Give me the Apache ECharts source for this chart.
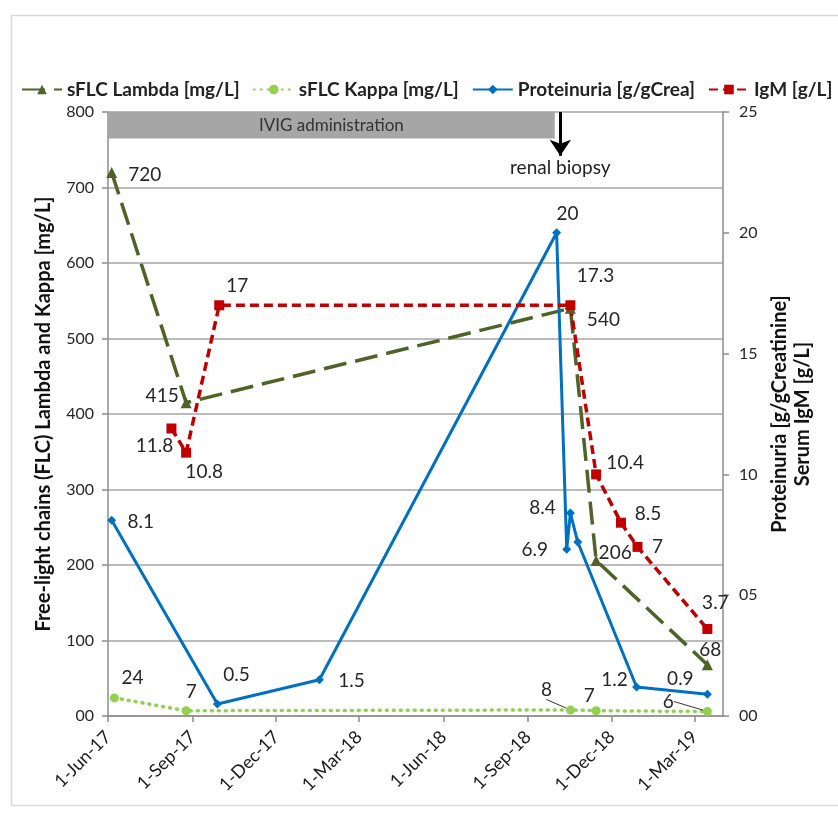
<!DOCTYPE html>
<html>
<head>
<meta charset="utf-8">
<script src="https://cdn.jsdelivr.net/npm/echarts@6/dist/echarts.min.js"></script>
<style>
html,body{margin:0;padding:0;background:#fff;}
#chart{width:838px;height:816px;}
</style>
</head>
<body>
<div id="chart"></div>
<script>
// ---- data ----
const xTickDates = ['2017-06-01','2017-09-01','2017-12-01','2018-03-01','2018-06-01','2018-09-01','2018-12-01','2019-03-01'];
const xTickLabels = ['1-Jun-17','1-Sep-17','1-Dec-17','1-Mar-18','1-Jun-18','1-Sep-18','1-Dec-18','1-Mar-19'];
const xRange = ['2017-06-01','2019-04-01'];

const lambdaDates = ['2017-06-05','2017-08-25','2018-10-17','2018-11-14','2019-03-15'];
const lambdaValues = [720, 415, 540, 206, 68];
const lambdaLabels = ['720','415','540','206','68'];

const kappaDates = ['2017-06-08','2017-08-25','2018-10-17','2018-11-14','2019-03-15'];
const kappaValues = [24, 7, 8, 7, 6];
const kappaLabels = ['24','7','8','7','6'];

const protDates = ['2017-06-05','2017-09-28','2018-01-17','2018-10-02','2018-10-13','2018-10-17','2018-10-25','2018-12-28','2019-03-15'];
const protValues = [8.1, 0.5, 1.5, 20, 6.9, 8.4, 7.2, 1.2, 0.9];
const protLabels = ['8.1','0.5','1.5','20','6.9','8.4','','1.2','0.9'];

const igmDates = ['2017-08-09','2017-08-25','2017-09-30','2018-10-17','2018-11-14','2018-12-11','2018-12-29','2019-03-15'];
const igmValues = [11.9, 10.9, 17, 17, 10, 8, 7, 3.6];
const igmLabels = ['11.8','10.8','17','17.3','10.4','8.5','7','3.7'];

const ivigPeriod = ['2017-06-01','2018-09-30'];
const ivigBand = [765, 800];
const biopsyDate = '2018-10-06';
const biopsyArrow = [800, 742];

// ---- label placement (style) ----
const lambdaOff = [[33,2],[-24,-7],[33,12],[19,-8],[3,-15]];
const kappaOff  = [[18,-20],[5,-19],[-24,-20],[-7,-15],[-39,-10]];
const kappaLeader = [false,false,true,false,true];
const protOff   = [[29,2],[19,-29],[32,1],[11,-19],[-32,1],[-28,-5],[0,0],[-22,-7],[-27,-15]];
const igmOff    = [[-17,17],[18,19],[18,-19],[25,-29],[29,-12],[27,-9],[20,0],[8,-26]];

const t = s => Date.parse(s);
const FONT = 'Lato';
const txt = '#262626';

function build(dates, vals, labels, offs, leaders){
  return dates.map((d,i)=>{
    const item = {
      value:[t(d), vals[i]],
      label:{show: labels[i] !== '', formatter: labels[i], offset: offs[i]}
    };
    if (leaders) item.labelLine = {show: !!leaders[i]};
    return item;
  });
}
const baseLabel = {show:true, position:'inside', color:txt, fontFamily:FONT, fontSize:19, align:'center', verticalAlign:'middle'};

const chart = echarts.init(document.getElementById('chart'), null, {renderer:'canvas'});
const tickVals = xTickDates.map(t);

chart.setOption({
  animation:false,
  backgroundColor:'#fff',
  textStyle:{fontFamily:FONT},
  graphic:[{type:'rect', left:9, top:13, shape:{width:840, height:790}, style:{fill:'none', stroke:'#D9D9D9', lineWidth:1.5}, silent:true}],
  legend:{
    left:16, top:75, itemWidth:40, itemHeight:12, itemGap:13,
    textStyle:{fontFamily:FONT, fontSize:19, fontWeight:'bold', color:'#222'},
    data:['sFLC Lambda [mg/L]','sFLC Kappa [mg/L]','Proteinuria [g/gCrea]','IgM [g/L]']
  },
  grid:{left:108, right:115, top:112, bottom:100},
  xAxis:{
    type:'value', min:t(xRange[0]), max:t(xRange[1]),
    splitLine:{show:false},
    axisLine:{lineStyle:{color:'#8C8C8C', width:1.5}},
    axisTick:{show:true, customValues:tickVals, length:6, lineStyle:{color:'#8C8C8C', width:1.5}},
    axisLabel:{customValues:tickVals, rotate:45, margin:18, fontSize:18, fontFamily:FONT, color:'#1a1a1a',
      formatter:v=>{const i=tickVals.indexOf(v); return i>=0?xTickLabels[i]:'';}}
  },
  yAxis:[
    {type:'value', min:0, max:800, interval:100,
     name:'Free-light chains (FLC) Lambda and Kappa [mg/L]', nameLocation:'middle', nameRotate:90, nameGap:54,
     nameTextStyle:{fontFamily:FONT, fontSize:20, fontWeight:'bold', color:'#111'},
     axisLine:{show:true, lineStyle:{color:'#8C8C8C', width:1.5}},
     axisTick:{show:true, length:6, lineStyle:{color:'#8C8C8C', width:1.5}},
     splitLine:{show:true, lineStyle:{color:'#A6A6A6', width:1.5}},
     axisLabel:{margin:14, fontSize:16, fontFamily:FONT, color:txt, formatter:v=>v===0?'00':String(v)}},
    {type:'value', min:0, max:25, interval:5, position:'right',
     name:'Proteinuria [g/gCreatinine]\nSerum IgM [g/L]', nameLocation:'middle', nameRotate:90, nameGap:44,
     nameTextStyle:{fontFamily:FONT, fontSize:20, fontWeight:'bold', color:'#111', lineHeight:23},
     axisLine:{show:true, lineStyle:{color:'#8C8C8C', width:1.5}},
     axisTick:{show:true, length:6, lineStyle:{color:'#8C8C8C', width:1.5}},
     splitLine:{show:false},
     axisLabel:{margin:16, fontSize:16, fontFamily:FONT, color:txt, formatter:v=>v<10?'0'+v:String(v)}}
  ],
  series:[
    {name:'sFLC Lambda [mg/L]', type:'line', yAxisIndex:0, symbol:'triangle', symbolSize:11,
     itemStyle:{color:'#4F6228'}, lineStyle:{color:'#4F6228', width:3.5, type:[23,9]},
     label:baseLabel, data:build(lambdaDates, lambdaValues, lambdaLabels, lambdaOff),
     markArea:{silent:true, itemStyle:{color:'#A6A6A6', opacity:1},
       label:{show:true, position:'inside', color:'#333', fontFamily:FONT, fontSize:17},
       data:[[{name:'IVIG administration', xAxis:t(ivigPeriod[0]), yAxis:ivigBand[0]}, {xAxis:t(ivigPeriod[1]), yAxis:ivigBand[1]}]]},
     markLine:{silent:true, symbol:['none','arrow'], symbolSize:16, animation:false,
       lineStyle:{color:'#000', width:3, type:'solid'},
       label:{show:true, position:'end', distance:3, formatter:'renal biopsy', color:'#222', fontFamily:FONT, fontSize:19},
       data:[[{coord:[t(biopsyDate), biopsyArrow[0]]}, {coord:[t(biopsyDate), biopsyArrow[1]]}]]}
    },
    {name:'sFLC Kappa [mg/L]', type:'line', yAxisIndex:0, symbol:'circle', symbolSize:9,
     itemStyle:{color:'#92D050'}, lineStyle:{color:'#92D050', width:3.5, type:[1,6], cap:'round'},
     labelLine:{show:false, lineStyle:{color:'#333', width:1}},
     label:baseLabel, data:build(kappaDates, kappaValues, kappaLabels, kappaOff, kappaLeader)},
    {name:'Proteinuria [g/gCrea]', type:'line', yAxisIndex:1, symbol:'diamond', symbolSize:9,
     itemStyle:{color:'#0070C0'}, lineStyle:{color:'#0070C0', width:3},
     label:baseLabel, data:build(protDates, protValues, protLabels, protOff)},
    {name:'IgM [g/L]', type:'line', yAxisIndex:1, symbol:'rect', symbolSize:10,
     itemStyle:{color:'#C00000'}, lineStyle:{color:'#C00000', width:3.5, type:[9,5]},
     label:baseLabel, data:build(igmDates, igmValues, igmLabels, igmOff)}
  ]
});
</script>
</body>
</html>
